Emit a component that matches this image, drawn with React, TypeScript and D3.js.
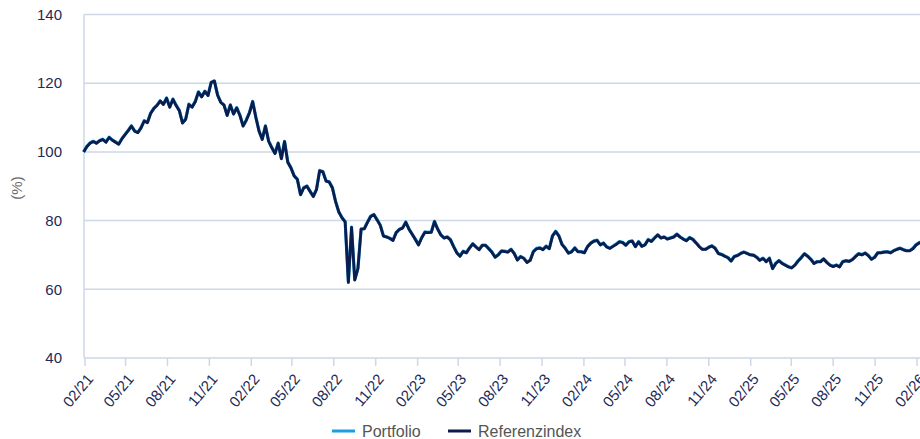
import React from 'react';
import * as d3 from 'd3';

// weekly closes, first point 29 Jan 2021
const startDate = new Date(2021, 0, 29);

const referenz = [
  100, 101.5, 102.5, 103, 102.5, 103.2, 103.6, 102.8, 104.2, 103.4,
  102.8, 102.2, 103.8, 105, 106.2, 107.5, 106, 105.6, 107, 109,
  108.5, 111.2, 112.6, 113.5, 114.8, 113.8, 115.6, 113, 115.3, 113.5,
  112, 108.4, 109.5, 113.8, 113, 114.6, 117.4, 116, 117.6, 116.4,
  120.2, 120.6, 116.5, 114.4, 113.6, 110.6, 113.6, 111, 112.8, 110.6,
  107.5, 109.2, 111.4, 114.6, 110, 106, 103.6, 107.5, 103.1, 101.2,
  99.5, 102.5, 98, 103, 97, 95.3, 93, 92, 87.5, 89.5,
  90, 88.5, 87, 89, 94.5, 94.2, 91.5, 91.2, 89.5, 85.5,
  82.5, 80.8, 79.6, 62, 78, 62.7, 66, 77.5, 77.6, 79.5,
  81.2, 81.7, 80.2, 78.6, 75.5, 75.2, 74.8, 74.2, 76.5, 77.4,
  77.8, 79.5, 77.5, 76, 74.5, 72.9, 75, 76.6, 76.5, 76.6,
  79.7, 77.5, 75.8, 74.9, 75.2, 74.4, 72.4, 70.6, 69.6, 71,
  70.6, 72, 73.2, 72.3, 71.5, 72.8, 72.8, 71.8, 70.8, 69.3,
  70, 71.1, 71, 70.8, 71.6, 70.4, 68.5, 69.5, 69, 67.8,
  68.4, 70.9, 71.8, 72, 71.5, 72.5, 71.8, 75.5, 76.8, 75.5,
  73, 71.9, 70.5, 70.9, 72, 70.9, 70.9, 70.6, 72.4, 73.4,
  74, 74.2, 72.9, 73.4, 72.3, 71.9, 72.5, 73.1, 73.8, 73.6,
  72.8, 73.8, 74, 72.4, 73.8, 72.5, 72.9, 74.4, 73.9, 74.9,
  75.8, 74.9, 75.2, 74.6, 74.9, 75.2, 76, 75.2, 74.6, 74.1,
  75, 74.5, 73.5, 72.4, 71.6, 71.6, 72.2, 72.6, 71.9, 70.4,
  70.1, 69.6, 69.2, 68.2, 69.5, 69.8, 70.4, 70.8, 70.4, 70,
  69.9, 69.3, 68.4, 69, 68, 69, 66, 67.5, 68.3, 67.5,
  67, 66.5, 66.2, 67, 68.2, 69.2, 70.3, 69.6, 68.7, 67.5,
  68, 68, 68.8, 67.8, 67, 66.6, 67, 66.5, 68, 68.3,
  68.1, 68.6, 69.5, 70.3, 70, 70.5, 69.8, 68.7, 69.3, 70.6,
  70.6, 70.8, 70.9, 70.6, 71.2, 71.6, 71.9, 71.5, 71.2, 71.2,
  71.8, 72.9, 73.5, 73.8,
];

const portfolio = [
  100, 101.6, 102.6, 103.1, 102.6, 103.3, 103.7, 102.9, 104.3, 103.5,
  102.9, 102.3, 103.9, 105.1, 106.3, 107.6, 106.1, 105.7, 107.1, 109.1,
  108.6, 111.3, 112.7, 113.6, 114.9, 113.9, 115.7, 113.1, 115.4, 113.6,
  112.1, 108.5, 109.6, 113.9, 113.1, 114.7, 117.5, 116.1, 117.7, 116.5,
  120.3, 120.7, 116.6, 114.5, 113.7, 110.7, 113.7, 111.1, 112.9, 110.7,
  107.6, 109.3, 111.5, 114.7, 110.1, 106.1, 103.7, 107.6, 103.2, 101.3,
  99.6, 102.6, 98.1, 103.1, 97.1, 95.4, 93.1, 92.1, 87.6, 89.6,
  90.1, 88.6, 87.1, 89.1, 94.6, 94.3, 91.6, 91.3, 89.6, 85.6,
  82.6, 80.9, 79.7, 62.1, 78.1, 62.8, 66.1, 77.6, 77.7, 79.6,
  81.3, 81.8, 80.3, 78.7, 75.6, 75.3, 74.9, 74.3, 76.6, 77.5,
  77.9, 79.6, 77.6, 76.1, 74.6, 73, 75.1, 76.7, 76.6, 76.7,
  79.8, 77.6, 75.9, 75, 75.3, 74.5, 72.5, 70.7, 69.7, 71.1,
  70.7, 72.1, 73.3, 72.4, 71.6, 72.9, 72.9, 71.9, 70.9, 69.4,
  70.1, 71.2, 71.1, 70.9, 71.7, 70.5, 68.6, 69.6, 69.1, 67.9,
  68.5, 71, 71.9, 72.1, 71.6, 72.6, 71.9, 75.6, 76.9, 75.6,
  73.1, 72, 70.6, 71, 72.1, 71, 71, 70.7, 72.5, 73.5,
  74.1, 74.3, 73, 73.5, 72.4, 72, 72.6, 73.2, 73.9, 73.7,
  72.9, 73.9, 74.1, 72.5, 73.9, 72.6, 73, 74.5, 74, 75,
  75.9, 75, 75.3, 74.7, 75, 75.3, 76.1, 75.3, 74.7, 74.2,
  75.1, 74.6, 73.6, 72.5, 71.7, 71.7, 72.3, 72.7, 72, 70.5,
  70.2, 69.7, 69.3, 68.3, 69.6, 69.9, 70.5, 70.9, 70.5, 70.1,
  70, 69.4, 68.5, 69.1, 68.1, 69.1, 66.1, 67.6, 68.4, 67.6,
  67.1, 66.6, 66.3, 67.1, 68.3, 69.3, 70.4, 69.7, 68.8, 67.6,
  68.1, 68.1, 68.9, 67.9, 67.1, 66.7, 67.1, 66.6, 68.1, 68.4,
  68.2, 68.7, 69.6, 70.4, 70.1, 70.6, 69.9, 68.8, 69.4, 70.7,
  70.7, 70.9, 71, 70.7, 71.3, 71.7, 72, 71.6, 71.3, 71.3,
  71.9, 73, 73.6, 73.9,
];

const yTicks = [40, 60, 80, 100, 120, 140];
const seriesNames = ['Portfolio', 'Referenzindex'];
const seriesColors = ['#1a9fdf', '#0c1d4d'];

const W = 920;
const H = 439;
const font = '"Liberation Sans", Arial, sans-serif';
const gridColor = '#cdd8e6';
const textColor = '#1c2a57';

const App = () => {
  const x = d3.scaleTime()
    .domain([new Date(2021, 1, 1), new Date(2026, 1, 1)])
    .range([85, 917]);
  const y = d3.scaleLinear().domain([40, 140]).range([358, 14.5]);

  const dateAt = (i: number) => d3.timeDay.offset(startDate, i * 7);
  const line = d3.line<number>()
    .x((_, i) => x(dateAt(i)))
    .y((d) => y(d));

  const xTicks = d3.timeMonth.range(new Date(2021, 1, 1), new Date(2026, 1, 2), 3);
  const fmt = d3.timeFormat('%m/%y');

  return (
    <svg width={W} height={H} style={{ position: 'absolute', left: 0, top: 0, fontFamily: font }}>
      <rect width={W} height={H} fill="#fff" />
      {yTicks.map((t) => (
        <g key={t}>
          <line x1={84} x2={W} y1={y(t)} y2={y(t)} stroke={gridColor} strokeWidth={1.5} />
          <text x={62} y={y(t)} dy="0.35em" textAnchor="end" fontSize={15} fill={textColor}>{t}</text>
        </g>
      ))}
      <line x1={84} x2={84} y1={y(140)} y2={y(40)} stroke={gridColor} strokeWidth={1.5} />
      {xTicks.map((d) => (
        <g key={+d} transform={`translate(${x(d)},${y(40)})`}>
          <line y1={0} y2={8} stroke={gridColor} strokeWidth={1.5} />
          <text
            transform="translate(5,18) rotate(-50)"
            textAnchor="end"
            dy="0.35em"
            fontSize={15}
            fill={textColor}
          >
            {fmt(d)}
          </text>
        </g>
      ))}
      <text transform="translate(22,188) rotate(-90)" textAnchor="middle" fontSize={15} fill="#6b6b6b">(%)</text>
      <path d={line(portfolio) || ''} fill="none" stroke={seriesColors[0]} strokeWidth={3.2} strokeLinejoin="round" />
      <path d={line(referenz) || ''} fill="none" stroke={seriesColors[1]} strokeWidth={2.8} strokeLinejoin="round" />
      {seriesNames.map((name, i) => {
        const lx = i === 0 ? 332 : 448;
        return (
          <g key={name}>
            <line x1={lx} x2={lx + 23} y1={431} y2={431} stroke={seriesColors[i]} strokeWidth={3} />
            <text x={lx + 30} y={437} fontSize={16} fill="#555">{name}</text>
          </g>
        );
      })}
    </svg>
  );
};

export default App;
